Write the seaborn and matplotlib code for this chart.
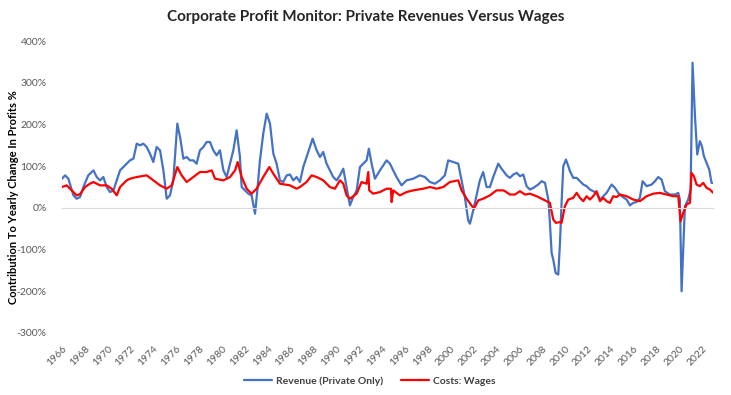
import pandas as pd
import matplotlib.pyplot as plt
import matplotlib.ticker as mticker
import seaborn as sns

# ── data (% contribution) ────────────────────────────────────────────────────
rev_year = [1966.0, 1966.27, 1966.56, 1967.0, 1967.29, 1967.58, 1967.87, 1968.3, 1968.75,
            1969.04, 1969.33, 1969.62, 1969.91, 1970.2, 1970.5, 1970.79, 1971.08, 1971.37,
            1971.66, 1971.95, 1972.25, 1972.54, 1972.83, 1973.12, 1973.41, 1973.7, 1973.99,
            1974.28, 1974.58, 1974.87, 1975.16, 1975.45, 1975.74, 1976.09, 1976.33, 1976.62,
            1976.91, 1977.2, 1977.49, 1977.78, 1978.07, 1978.37, 1978.66, 1978.95, 1979.24,
            1979.53, 1979.82, 1980.12, 1980.41, 1980.7, 1980.99, 1981.28, 1981.57, 1981.72,
            1982.01, 1982.3, 1982.59, 1982.89, 1983.09, 1983.32, 1983.61, 1983.91, 1984.2,
            1984.49, 1984.78, 1985.07, 1985.36, 1985.66, 1985.95, 1986.24, 1986.53, 1986.82,
            1987.11, 1987.4, 1987.69, 1987.93, 1988.28, 1988.57, 1988.86, 1989.15, 1989.44,
            1989.73, 1990.03, 1990.32, 1990.61, 1990.9, 1991.19, 1991.48, 1991.78, 1992.07,
            1992.36, 1992.65, 1992.85, 1993.09, 1993.38, 1993.82, 1994.11, 1994.4, 1994.69,
            1994.98, 1995.27, 1995.71, 1996.15, 1996.73, 1997.31, 1997.75, 1998.19, 1998.63,
            1999.06, 1999.5, 1999.79, 2000.23, 2000.67, 2000.96, 2001.25, 2001.54, 2001.69,
            2001.98, 2002.27, 2002.56, 2002.85, 2003.15, 2003.44, 2003.73, 2004.17, 2004.46,
            2004.9, 2005.19, 2005.49, 2005.78, 2006.07, 2006.36, 2006.65, 2006.94, 2007.24,
            2007.67, 2007.96, 2008.26, 2008.55, 2008.69, 2008.84, 2008.98, 2009.19, 2009.42,
            2009.57, 2009.71, 2009.86, 2010.09, 2010.3, 2010.44, 2010.73, 2011.03, 2011.32,
            2011.61, 2011.9, 2012.19, 2012.48, 2012.77, 2013.07, 2013.36, 2013.65, 2014.09,
            2014.38, 2014.67, 2014.96, 2015.4, 2015.69, 2015.98, 2016.27, 2016.56, 2016.8,
            2017.15, 2017.59, 2017.88, 2018.17, 2018.46, 2018.75, 2019.19, 2019.63, 2019.92,
            2020.06, 2020.21, 2020.35, 2020.5, 2020.79, 2021.0, 2021.17, 2021.38, 2021.58,
            2021.81, 2021.99, 2022.16, 2022.4, 2022.63, 2022.83, 2022.98]
rev_val = [70, 78, 70, 30, 22, 26, 50, 78, 90,
           74, 66, 74, 50, 38, 42, 66, 90, 98,
           106, 114, 118, 154, 150, 154, 146, 130, 110,
           146, 138, 90, 22, 30, 66, 202, 170, 118,
           122, 114, 114, 106, 138, 146, 158, 158, 138,
           126, 138, 90, 74, 106, 138, 186, 122, 50,
           42, 34, 30, -14, 42, 114, 178, 226, 202,
           130, 106, 66, 62, 78, 80, 66, 74, 62,
           98, 122, 146, 166, 138, 122, 134, 106, 90,
           74, 66, 78, 94, 50, 6, 26, 42, 98,
           106, 114, 142, 106, 70, 90, 102, 114, 106,
           90, 74, 54, 66, 70, 78, 74, 62, 58,
           66, 78, 114, 110, 106, 66, 26, -30, -38,
           -6, 30, 66, 86, 50, 50, 74, 106, 94,
           78, 72, 80, 84, 76, 80, 52, 44, 48,
           56, 64, 60, 20, -36, -108, -124, -156, -160,
           -84, 12, 100, 116, 100, 88, 72, 72, 64,
           56, 52, 44, 40, 36, 20, 28, 36, 56,
           48, 36, 28, 20, 6, 12, 14, 24, 64,
           52, 56, 64, 74, 68, 40, 32, 32, 36,
           20, -200, -100, 4, 20, 44, 348, 220, 128,
           160, 148, 124, 108, 92, 60, 60]

wage_year = [1966.0, 1966.41, 1966.85, 1967.29, 1967.58, 1968.02, 1968.45, 1968.75, 1969.33,
             1969.91, 1970.35, 1970.79, 1971.08, 1971.66, 1971.95, 1972.54, 1973.41, 1973.99,
             1974.58, 1975.16, 1975.6, 1976.09, 1976.47, 1976.91, 1977.49, 1978.07, 1978.66,
             1979.1, 1979.39, 1980.12, 1980.7, 1981.14, 1981.37, 1981.72, 1982.16, 1982.59,
             1983.03, 1983.61, 1984.14, 1984.49, 1985.07, 1985.95, 1986.53, 1986.82, 1987.4,
             1987.84, 1988.28, 1988.86, 1989.44, 1989.88, 1990.32, 1990.61, 1990.9, 1991.19,
             1991.78, 1992.21, 1992.65, 1992.8, 1992.88, 1993.23, 1993.82, 1994.4, 1994.78,
             1994.84, 1994.98, 1995.57, 1996.15, 1996.73, 1997.6, 1998.19, 1998.77, 1999.36,
             1999.94, 2000.67, 2000.96, 2001.4, 2001.83, 2002.04, 2002.42, 2002.85, 2003.44,
             2004.02, 2004.6, 2004.76, 2005.19, 2005.63, 2006.07, 2006.51, 2006.94, 2007.53,
             2008.11, 2008.69, 2008.98, 2009.22, 2009.57, 2009.71, 2010.0, 2010.3, 2010.73,
             2011.03, 2011.32, 2011.61, 2011.9, 2012.19, 2012.48, 2012.77, 2013.07, 2013.36,
             2013.65, 2013.94, 2014.23, 2014.52, 2014.82, 2015.4, 2015.98, 2016.56, 2017.15,
             2017.73, 2018.31, 2018.9, 2019.48, 2019.92, 2020.12, 2020.35, 2020.65, 2020.94,
             2021.08, 2021.29, 2021.52, 2021.81, 2022.1, 2022.4, 2022.69, 2022.98]
wage_val = [50, 54, 42, 30, 33, 50, 58, 62, 54,
            54, 46, 30, 50, 66, 70, 74, 78, 66,
            54, 46, 54, 98, 78, 62, 74, 86, 86,
            90, 70, 66, 74, 90, 110, 74, 46, 34,
            46, 74, 98, 82, 58, 54, 46, 50, 62,
            78, 74, 66, 50, 46, 66, 58, 30, 22,
            34, 62, 58, 86, 42, 34, 38, 46, 46,
            14, 42, 30, 38, 42, 46, 50, 46, 50,
            62, 66, 42, 22, 6, -2, 18, 22, 30,
            42, 42, 40, 32, 32, 40, 32, 34, 28,
            20, 12, -28, -36, -34, -36, 4, 20, 24,
            36, 24, 16, 28, 20, 28, 40, 16, 24,
            16, 12, 28, 26, 32, 28, 20, 16, 28,
            34, 36, 32, 28, 28, -32, -12, 8, 12,
            84, 76, 56, 52, 60, 48, 44, 36]

tick_years = list(range(1966, 2023, 2))
y_ticks = [-300, -200, -100, 0, 100, 200, 300, 400]

rev_df = pd.DataFrame({"year": rev_year, "value": rev_val})
wage_df = pd.DataFrame({"year": wage_year, "value": wage_val})

# ── style ────────────────────────────────────────────────────────────────────
sns.set_style("white")
plt.rcParams["font.family"] = ["Lato", "DejaVu Sans"]

fig = plt.figure(figsize=(7.31, 3.95), dpi=100)
ax = fig.add_axes([0.0848, 0.157, 0.8906, 0.739])

sns.lineplot(data=rev_df, x="year", y="value", ax=ax, color="#4472C4",
             linewidth=1.6, sort=False, estimator=None, label="Revenue (Private Only)")
sns.lineplot(data=wage_df, x="year", y="value", ax=ax, color="#FF0000",
             linewidth=1.6, sort=False, estimator=None, label="Costs: Wages")

ax.set_xlim(1966, 2022.96)
ax.set_ylim(-300, 400)
ax.set_yticks(y_ticks)
ax.yaxis.set_major_formatter(mticker.FuncFormatter(lambda v, p: f"{v:.0f}%"))
ax.tick_params(axis="y", length=0, pad=11, labelsize=7.5, labelcolor="#595959")

for side in ["left", "right", "top"]:
    ax.spines[side].set_visible(False)

# category axis drawn through zero, labels kept at the bottom
ax.spines["bottom"].set_position(("data", 0))
ax.spines["bottom"].set_color("#d9d9d9")
ax.spines["bottom"].set_linewidth(0.8)
ax.set_xticks(tick_years)
ax.tick_params(axis="x", direction="out", length=3, color="#d9d9d9",
               labelbottom=False)

sec = ax.secondary_xaxis(0.0)
sec.set_xticks(tick_years)
sec.set_xticklabels([str(y) for y in tick_years], rotation=45, ha="right",
                    rotation_mode="anchor")
sec.tick_params(length=0, pad=8, labelsize=7.5, labelcolor="#595959")
sec.spines["bottom"].set_visible(False)

ax.set_xlabel("")
ax.set_ylabel("")
fig.text(14 / 731, 0.5, "Contribution To Yearly Change In Profits %", rotation=90,
         ha="center", va="center", fontsize=8, fontweight="bold", color="#000000")

fig.suptitle("Corporate Profit Monitor: Private Revenues Versus Wages",
             x=0.5, y=0.957, va="center", fontsize=11, fontweight="bold")

ax.get_legend().remove()
handles, labels = ax.get_legend_handles_labels()
leg = fig.legend(handles, labels, loc="center", bbox_to_anchor=(0.506, 0.035), ncol=2,
                 frameon=False, fontsize=7.5, handlelength=2.7, handletextpad=0.4,
                 columnspacing=1.7)
for t in leg.get_texts():
    t.set_fontweight("bold")
    t.set_color("#404040")

plt.savefig("out.png", dpi=100)
plt.close()
